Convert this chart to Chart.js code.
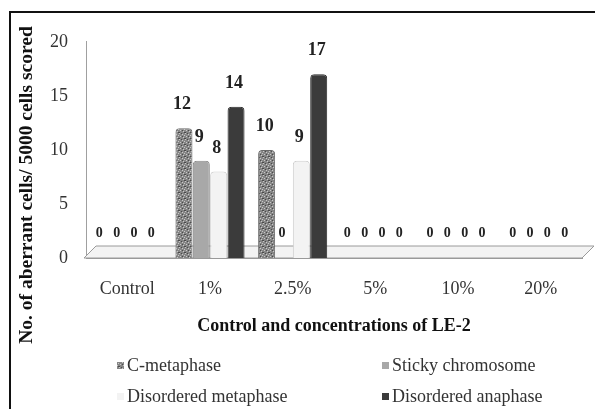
<!DOCTYPE html>
<html>
<head>
<meta charset="utf-8">
<script src="https://cdn.jsdelivr.net/npm/chart.js@4/dist/chart.umd.min.js"></script>
<style>
  html, body { margin: 0; padding: 0; background: #fff; overflow: hidden; }
  #frame { position: absolute; left: 9px; top: 11px; width: 590px; height: 400px;
           border-left: 2px solid #111; border-top: 2px solid #111; }
  #chart { display: block; }
</style>
</head>
<body>
<div id="frame"><canvas id="chart" width="584" height="396"></canvas></div>
<script>
// Data
const categories = ['Control', '1%', '2.5%', '5%', '10%', '20%'];
const cMetaphase = [0, 12, 10, 0, 0, 0];
const stickyChromosome = [0, 9, 0, 0, 0, 0];
const disorderedMetaphase = [0, 8, 9, 0, 0, 0];
const disorderedAnaphase = [0, 14, 17, 0, 0, 0];
const seriesNames = ['C-metaphase', 'Sticky chromosome', 'Disordered metaphase', 'Disordered anaphase'];
const yTitle = 'No. of aberrant cells/ 5000 cells scored';
const xTitle = 'Control and concentrations of LE-2';

const serif = '"Liberation Serif", "Times New Roman", serif';

// speckled fill for the C-metaphase bars
function speckle() {
  const c = document.createElement('canvas');
  c.width = 6; c.height = 6;
  const g = c.getContext('2d');
  g.fillStyle = '#858585';
  g.fillRect(0, 0, 6, 6);
  g.fillStyle = '#c8c8c8';
  [[0, 0], [3, 1], [1, 3], [4, 4], [5, 2]].forEach(p => g.fillRect(p[0], p[1], 1, 1));
  g.fillStyle = '#4a4a4a';
  [[2, 0], [5, 5], [0, 5], [3, 3]].forEach(p => g.fillRect(p[0], p[1], 1, 1));
  return g.createPattern(c, 'repeat');
}

// light 3D-looking floor under the bars
const floor = {
  id: 'floor',
  beforeDatasetsDraw(chart) {
    const { ctx, chartArea: a } = chart;
    ctx.save();
    ctx.beginPath();
    ctx.moveTo(a.left - 2, a.bottom);
    ctx.lineTo(a.left + 10, a.bottom - 12);
    ctx.lineTo(a.right + 12, a.bottom - 12);
    ctx.lineTo(a.right, a.bottom);
    ctx.closePath();
    ctx.fillStyle = '#f3f3f3';
    ctx.fill();
    ctx.strokeStyle = '#9a9a9a';
    ctx.lineWidth = 1;
    ctx.stroke();
    ctx.restore();
  }
};

// value labels above every bar
const valueLabels = {
  id: 'valueLabels',
  afterDatasetsDraw(chart) {
    const ctx = chart.ctx;
    ctx.save();
    ctx.textAlign = 'center';
    ctx.textBaseline = 'alphabetic';
    ctx.fillStyle = '#222';
    chart.data.datasets.forEach((ds, i) => {
      chart.getDatasetMeta(i).data.forEach((bar, j) => {
        const v = ds.data[j];
        ctx.font = (v === 0 ? 'bold 14px ' : 'bold 18px ') + serif;
        ctx.fillText(String(v), bar.x - 2, bar.y - (v === 0 ? 21 : 19));
      });
    });
    ctx.restore();
  }
};

// y title spans most of the frame height in the reference, so draw it here
const sideTitle = {
  id: 'sideTitle',
  afterDraw(chart) {
    const ctx = chart.ctx;
    ctx.save();
    ctx.translate(16, 172);
    ctx.rotate(-Math.PI / 2);
    ctx.font = 'bold 19.5px ' + serif;
    ctx.fillStyle = '#111';
    ctx.textAlign = 'center';
    ctx.textBaseline = 'middle';
    ctx.fillText(yTitle, 0, 0);
    ctx.restore();
  }
};

// two-column legend as in the reference
const gridLegend = {
  id: 'gridLegend',
  afterDraw(chart) {
    const ctx = chart.ctx;
    const cols = [116, 381];
    const rows = [353, 384];
    ctx.save();
    ctx.font = '18px ' + serif;
    ctx.textBaseline = 'middle';
    ctx.textAlign = 'left';
    chart.data.datasets.forEach((ds, i) => {
      const x = cols[i % 2];
      const y = rows[Math.floor(i / 2)];
      ctx.fillStyle = ds.backgroundColor;
      ctx.fillRect(x - 10, y - 4, 7, 7);
      ctx.fillStyle = '#333';
      ctx.fillText(ds.label, x, y);
    });
    ctx.restore();
  }
};

const ctx = document.getElementById('chart').getContext('2d');
const myChart = new Chart(ctx, {
  type: 'bar',
  data: {
    labels: categories,
    datasets: [
      { label: seriesNames[0], data: cMetaphase, backgroundColor: speckle(), borderColor: '#6a6a6a' },
      { label: seriesNames[1], data: stickyChromosome, backgroundColor: '#a8a8a8', borderColor: '#8a8a8a' },
      { label: seriesNames[2], data: disorderedMetaphase, backgroundColor: '#f3f3f3', borderColor: '#cfcfcf' },
      { label: seriesNames[3], data: disorderedAnaphase, backgroundColor: '#3b3b3b', borderColor: '#2a2a2a' }
    ]
  },
  options: {
    responsive: false,
    animation: false,
    layout: { padding: { left: 0, right: 13, top: 16, bottom: 71 } },
    barPercentage: 0.98,
    categoryPercentage: 0.84,
    elements: {
      bar: { borderWidth: 1, borderRadius: { topLeft: 4, topRight: 4 } }
    },
    plugins: {
      legend: { display: false },
      tooltip: { enabled: false }
    },
    scales: {
      x: {
        grid: { display: false, drawTicks: false },
        border: { display: true, color: '#999' },
        ticks: { color: '#333', padding: 20, font: { family: serif, size: 18 } },
        title: {
          display: true,
          text: xTitle,
          color: '#111',
          font: { family: serif, size: 18, weight: 'bold' },
          padding: { top: 0, bottom: 1 }
        },
        afterFit(scale) { scale.height = 80; }
      },
      y: {
        min: 0,
        max: 20,
        grid: { display: false, drawTicks: false },
        border: { display: true, color: '#a0a0a0' },
        ticks: { stepSize: 5, color: '#333', padding: 18, font: { family: serif, size: 18 } },
        afterFit(scale) { scale.width = 75; }
      }
    }
  },
  plugins: [floor, valueLabels, sideTitle, gridLegend]
});
</script>
</body>
</html>
